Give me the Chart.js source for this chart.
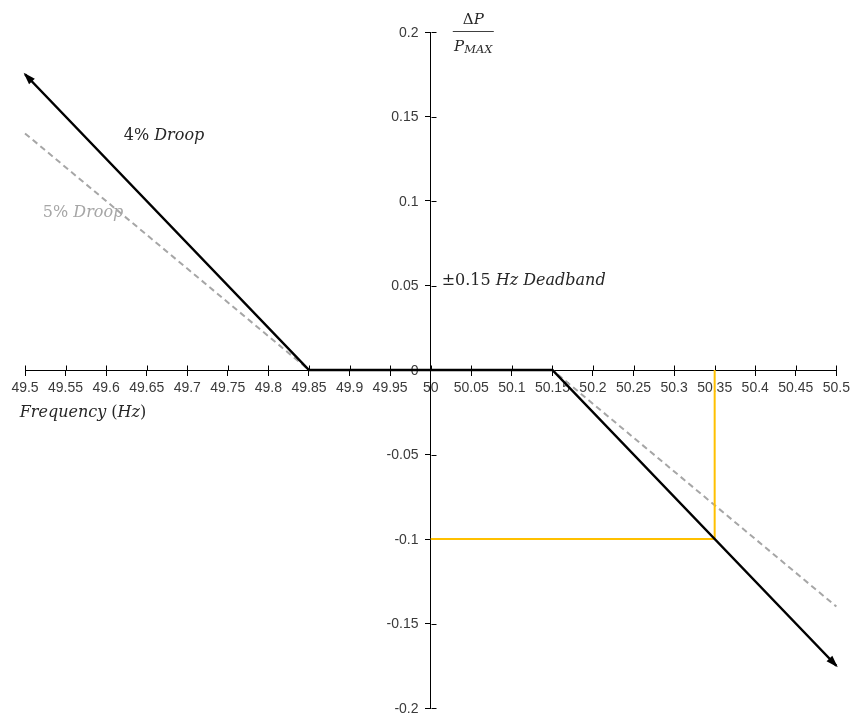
<!DOCTYPE html>
<html>
<head>
<meta charset="utf-8">
<script src="https://cdn.jsdelivr.net/npm/chart.js@4.4.1/dist/chart.umd.min.js"></script>
<style>
  html, body { margin: 0; padding: 0; background: #fff; }
  #wrap { width: 855px; height: 716px; }
</style>
</head>
<body>
<div id="wrap"><canvas id="c" width="855" height="716"></canvas></div>
<script>
// Frequency axis ticks (Hz) and their labels
const xTicks = [49.5, 49.55, 49.6, 49.65, 49.7, 49.75, 49.8, 49.85, 49.9, 49.95, 50,
                50.05, 50.1, 50.15, 50.2, 50.25, 50.3, 50.35, 50.4, 50.45, 50.5];
const xTickLabels = ['49.5', '49.55', '49.6', '49.65', '49.7', '49.75', '49.8', '49.85', '49.9', '49.95', '50',
                     '50.05', '50.1', '50.15', '50.2', '50.25', '50.3', '50.35', '50.4', '50.45', '50.5'];

// Power change axis ticks (per unit of rated power)
const yTicks = [-0.2, -0.15, -0.1, -0.05, 0, 0.05, 0.1, 0.15, 0.2];
const yTickLabels = ['-0.2', '-0.15', '-0.1', '-0.05', '0', '0.05', '0.1', '0.15', '0.2'];

// 4% droop characteristic with ±0.15 Hz deadband
const droop4Freq = [49.5, 49.85, 50.15, 50.5];
const droop4Power = [0.175, 0, 0, -0.175];

// 5% droop characteristic with the same deadband
const droop5Freq = [49.5, 49.85, 50.15, 50.5];
const droop5Power = [0.14, 0, 0, -0.14];

// Example operating point: 50.35 Hz gives -0.1 on the 4% curve
const markerVFreq = [50.35, 50.35];
const markerVPower = [0, -0.1];
const markerHFreq = [50, 50.35];
const markerHPower = [-0.1, -0.1];

const toPoints = (xs, ys) => xs.map((x, i) => ({ x: x, y: ys[i] }));

const SERIF = '"DejaVu Serif", "Liberation Serif", serif';
const SANS = '"Liberation Sans", Arial, sans-serif';

// Text labels placed in data coordinates
const annotations = [
  { x: 49.6218, y: 0.136, color: '#262626', size: 16,
    parts: [{ t: '4% ', it: false }, { t: 'Droop', it: true }] },
  { x: 49.522, y: 0.0905, color: '#a6a6a6', size: 16,
    parts: [{ t: '5% ', it: false }, { t: 'Droop', it: true }] },
  { x: 50.0135, y: 0.0503, color: '#262626', size: 16,
    parts: [{ t: '±0.15 ', it: false }, { t: 'Hz Deadband', it: true }] },
  { x: 49.4935, y: -0.0277, color: '#262626', size: 16,
    parts: [{ t: 'Frequency ', it: true }, { t: '(', it: false }, { t: 'Hz', it: true }, { t: ')', it: false }] }
];

function drawParts(ctx, x, y, parts, size, color) {
  ctx.fillStyle = color;
  ctx.textBaseline = 'alphabetic';
  ctx.textAlign = 'left';
  let cx = x;
  parts.forEach(p => {
    ctx.font = (p.it ? 'italic ' : '') + size + 'px ' + SERIF;
    ctx.fillText(p.t, cx, y);
    cx += ctx.measureText(p.t).width;
  });
}

const axisExtras = {
  id: 'axisExtras',
  beforeDatasetsDraw(chart) {
    const ctx = chart.ctx;
    const xs = chart.scales.x, ys = chart.scales.y;
    const x0 = Math.round(xs.getPixelForValue(50)) + 0.5;
    const y0 = Math.round(ys.getPixelForValue(0)) + 0.5;
    ctx.save();
    // inner halves of the tick marks so they cross the axes
    ctx.strokeStyle = '#000';
    ctx.lineWidth = 1;
    ctx.beginPath();
    xTicks.forEach(v => {
      const px = Math.round(xs.getPixelForValue(v)) + 0.5;
      ctx.moveTo(px, y0 - 5);
      ctx.lineTo(px, y0);
    });
    yTicks.forEach(v => {
      const py = Math.round(ys.getPixelForValue(v)) + 0.5;
      ctx.moveTo(x0, py);
      ctx.lineTo(x0 + 5, py);
    });
    ctx.stroke();
    // y tick labels, right-aligned a little left of the centred axis
    ctx.fillStyle = '#3a3a3a';
    ctx.font = '14px ' + SANS;
    ctx.textAlign = 'right';
    ctx.textBaseline = 'middle';
    yTicks.forEach((v, i) => {
      ctx.fillText(yTickLabels[i], x0 - 13, ys.getPixelForValue(v) + 1);
    });
    ctx.restore();
  },
  afterDatasetsDraw(chart) {
    const ctx = chart.ctx;
    // arrowheads at both ends of the 4% curve
    const pts = chart.getDatasetMeta(0).data;
    const arrow = (tip, from) => {
      const ang = Math.atan2(tip.y - from.y, tip.x - from.x);
      const len = 10, hw = 4;
      ctx.save();
      ctx.translate(tip.x, tip.y);
      ctx.rotate(ang);
      ctx.fillStyle = '#000';
      ctx.beginPath();
      ctx.moveTo(2, 0);
      ctx.lineTo(-len, -hw);
      ctx.lineTo(-len, hw);
      ctx.closePath();
      ctx.fill();
      ctx.restore();
    };
    arrow(pts[0], pts[1]);
    arrow(pts[pts.length - 1], pts[pts.length - 2]);
  },
  afterDraw(chart) {
    const ctx = chart.ctx;
    const xs = chart.scales.x, ys = chart.scales.y;
    ctx.save();
    annotations.forEach(a => {
      drawParts(ctx, xs.getPixelForValue(a.x), ys.getPixelForValue(a.y), a.parts, a.size, a.color);
    });

    // y-axis title as a fraction: ΔP over P_MAX
    const cx = xs.getPixelForValue(50.0525);
    const ly = Math.round(ys.getPixelForValue(0.2)) - 0.5;
    ctx.fillStyle = '#262626';
    ctx.textBaseline = 'alphabetic';
    ctx.font = '15px ' + SERIF;
    const wDelta = ctx.measureText('Δ').width;
    ctx.font = 'italic 15px ' + SERIF;
    const wP = ctx.measureText('P').width;
    let sx = cx - (wDelta + wP) / 2;
    ctx.font = '15px ' + SERIF;
    ctx.fillText('Δ', sx, ly - 8);
    ctx.font = 'italic 15px ' + SERIF;
    ctx.fillText('P', sx + wDelta, ly - 8);

    ctx.strokeStyle = '#404040';
    ctx.lineWidth = 1.2;
    ctx.beginPath();
    ctx.moveTo(cx - 20.5, ly);
    ctx.lineTo(cx + 20.5, ly);
    ctx.stroke();

    ctx.font = 'italic 15px ' + SERIF;
    const wP2 = ctx.measureText('P').width;
    ctx.font = 'italic 11.5px ' + SERIF;
    const wMax = ctx.measureText('MAX').width;
    sx = cx - (wP2 + wMax) / 2;
    ctx.font = 'italic 15px ' + SERIF;
    ctx.fillText('P', sx, ly + 19);
    ctx.font = 'italic 11.5px ' + SERIF;
    ctx.fillText('MAX', sx + wP2, ly + 21);
    ctx.restore();
  }
};

const tickFont = { family: SANS, size: 14 };

new Chart(document.getElementById('c'), {
  type: 'scatter',
  data: {
    datasets: [
      {
        label: '4% Droop',
        data: toPoints(droop4Freq, droop4Power),
        showLine: true, borderColor: '#000', borderWidth: 2.5,
        pointRadius: 0, borderCapStyle: 'butt', borderJoinStyle: 'miter', clip: false
      },
      {
        label: 'Vertical marker',
        data: toPoints(markerVFreq, markerVPower),
        showLine: true, borderColor: '#ffc000', borderWidth: 2, pointRadius: 0
      },
      {
        label: 'Horizontal marker',
        data: toPoints(markerHFreq, markerHPower),
        showLine: true, borderColor: '#ffc000', borderWidth: 2, pointRadius: 0
      },
      {
        label: '5% Droop',
        data: toPoints(droop5Freq, droop5Power),
        showLine: true, borderColor: '#a6a6a6', borderWidth: 2, borderDash: [6, 4],
        pointRadius: 0, clip: false
      }
    ]
  },
  options: {
    responsive: false,
    animation: false,
    devicePixelRatio: 1,
    layout: { padding: { left: 25, right: 17, top: 32, bottom: 8 } },
    plugins: { legend: { display: false }, tooltip: { enabled: false } },
    scales: {
      x: {
        type: 'linear',
        min: 49.5, max: 50.5,
        position: { y: 0 },
        afterBuildTicks: s => { s.ticks = xTicks.map(v => ({ value: v })); },
        ticks: {
          autoSkip: false, maxRotation: 0, minRotation: 0,
          color: '#3a3a3a', font: tickFont, padding: 5,
          callback: (v, i) => xTickLabels[i]
        },
        grid: { display: true, drawOnChartArea: false, drawTicks: true, tickLength: 5, color: '#000', lineWidth: 1 },
        border: { display: true, color: '#000', width: 1 }
      },
      y: {
        type: 'linear',
        min: -0.2, max: 0.2,
        position: { x: 50 },
        afterBuildTicks: s => { s.ticks = yTicks.map(v => ({ value: v })); },
        ticks: { display: false },
        grid: { display: true, drawOnChartArea: false, drawTicks: true, tickLength: 5, color: '#000', lineWidth: 1 },
        border: { display: true, color: '#000', width: 1 }
      }
    }
  },
  plugins: [axisExtras]
});
</script>
</body>
</html>
